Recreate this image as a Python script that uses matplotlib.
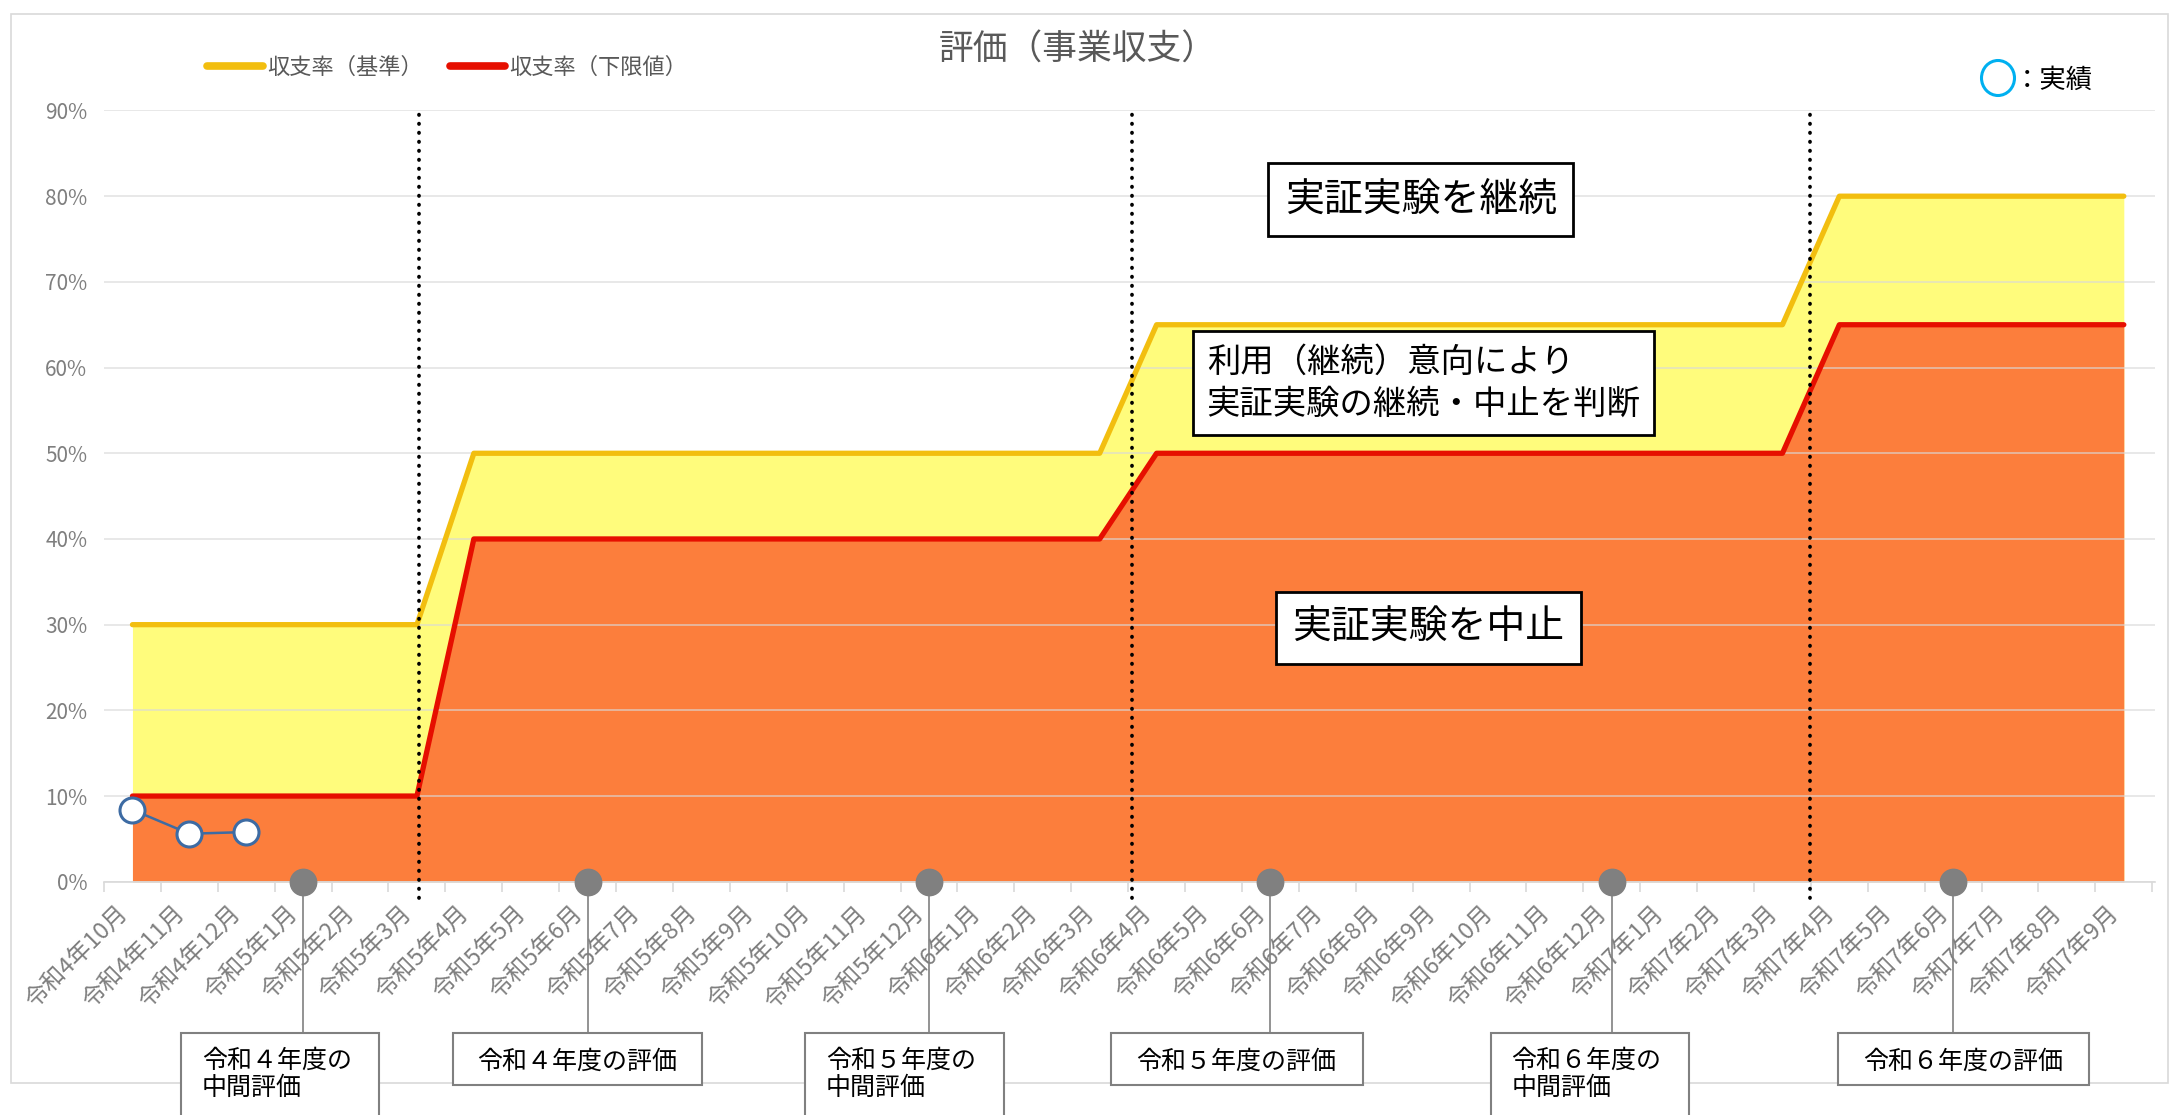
import matplotlib.pyplot as plt
import matplotlib.transforms as mtransforms
from matplotlib.patches import Rectangle, Ellipse
from matplotlib.lines import Line2D
from matplotlib.ticker import FuncFormatter

plt.rcParams['font.family'] = ['Noto Sans CJK JP', 'DejaVu Sans']

months = ['令和4年10月', '令和4年11月', '令和4年12月', '令和5年1月', '令和5年2月', '令和5年3月',
          '令和5年4月', '令和5年5月', '令和5年6月', '令和5年7月', '令和5年8月', '令和5年9月',
          '令和5年10月', '令和5年11月', '令和5年12月', '令和6年1月', '令和6年2月', '令和6年3月',
          '令和6年4月', '令和6年5月', '令和6年6月', '令和6年7月', '令和6年8月', '令和6年9月',
          '令和6年10月', '令和6年11月', '令和6年12月', '令和7年1月', '令和7年2月', '令和7年3月',
          '令和7年4月', '令和7年5月', '令和7年6月', '令和7年7月', '令和7年8月', '令和7年9月']

# 収支率（基準）
kijun = [30, 30, 30, 30, 30, 30,
         50, 50, 50, 50, 50, 50, 50, 50, 50, 50, 50, 50,
         65, 65, 65, 65, 65, 65, 65, 65, 65, 65, 65, 65,
         80, 80, 80, 80, 80, 80]
# 収支率（下限値）
kagen = [10, 10, 10, 10, 10, 10,
         40, 40, 40, 40, 40, 40, 40, 40, 40, 40, 40, 40,
         50, 50, 50, 50, 50, 50, 50, 50, 50, 50, 50, 50,
         65, 65, 65, 65, 65, 65]
# 実績
jisseki = [8.4, 5.6, 5.8]

eval_months = ['令和5年1月', '令和5年6月', '令和5年12月', '令和6年6月', '令和6年12月', '令和7年6月']
eval_labels = ['令和４年度の\n中間評価', '令和４年度の評価', '令和５年度の\n中間評価',
               '令和５年度の評価', '令和６年度の\n中間評価', '令和６年度の評価']

# layout of the annotation boxes under the axis (category units)
box_x = [(0.85, 4.33), (5.63, 10.01), (11.82, 15.31), (17.19, 21.62), (23.87, 27.35), (29.97, 34.39)]
divider_x = [5.03, 17.56, 29.48]

x = list(range(len(months)))

fig = plt.figure(figsize=(21.76, 11.15), dpi=100)
ax = fig.add_axes([0.0478, 0.2092, 0.9426, 0.6917])

ax.fill_between(x, 0, kijun, color='#FFFC7C', lw=0, zorder=1)
ax.fill_between(x, 0, kagen, color='#FC7E3C', lw=0, zorder=1.1)
l1, = ax.plot(x, kijun, color='#F2BE0F', lw=3.8, zorder=3, solid_capstyle='round', label='収支率（基準）')
l2, = ax.plot(x, kagen, color='#E60F00', lw=3.8, zorder=3, solid_capstyle='round', label='収支率（下限値）')
ax.plot(x[:len(jisseki)], jisseki, color='#3D6BA3', lw=1.8, marker='o', ms=18,
        mfc='white', mec='#3D6BA3', mew=2.2, zorder=4, clip_on=False)

ax.set_xlim(-0.5, 35.55)
ax.set_ylim(0, 90)
ax.set_yticks(range(0, 91, 10))
ax.yaxis.set_major_formatter(FuncFormatter(lambda v, p: f'{v:.0f}%'))
ax.grid(axis='y', color='#D9D9D9', lw=1.2, alpha=0.7)
ax.set_axisbelow(False)
for s in ['top', 'right', 'left']:
    ax.spines[s].set_visible(False)
ax.spines['bottom'].set_color('#D9D9D9')
ax.spines['bottom'].set_linewidth(1.2)
ax.spines['bottom'].set_zorder(2)
ax.tick_params(axis='y', length=0, pad=12, labelsize=15, labelcolor='#7F7F7F')

ax.set_xticks(x)
ax.set_xticklabels(months, rotation=45, ha='right', va='top')
ax.tick_params(axis='x', which='major', length=0, pad=15, labelsize=17, labelcolor='#7F7F7F')
ax.set_xticks([i - 0.5 for i in range(len(months) + 1)], minor=True)
ax.tick_params(axis='x', which='minor', length=7, color='#D9D9D9', width=1.2)

# dotted dividers between fiscal years
for dx in divider_x:
    ax.plot([dx, dx], [-1.9, 90], color='black', lw=2.7, ls=(0, (0.1, 2.3)),
            dash_capstyle='round', zorder=5, clip_on=False)

# text boxes in the plot area
ax.text(22.64, 79.6, '実証実験を継続', fontsize=28, ha='center', va='center', zorder=6,
        bbox=dict(boxstyle='square,pad=0.42', fc='white', ec='black', lw=2))
ax.text(18.88, 58.2, '利用（継続）意向により\n実証実験の継続・中止を判断', fontsize=24,
        ha='left', va='center', linespacing=1.25, zorder=6,
        bbox=dict(boxstyle='square,pad=0.4', fc='white', ec='black', lw=2))
ax.text(22.78, 29.6, '実証実験を中止', fontsize=28, ha='center', va='center', zorder=6,
        bbox=dict(boxstyle='square,pad=0.42', fc='white', ec='black', lw=2))

# evaluation markers with leader lines and labels
trans = mtransforms.blended_transform_factory(ax.transData, fig.transFigure)
box_top = 0.0735
for m, lab, (x0, x1) in zip(eval_months, eval_labels, box_x):
    i = months.index(m)
    ax.plot(i, 0, 'o', ms=19, color='#808080', zorder=7, clip_on=False)
    fig.add_artist(Line2D([i, i], [0.2092, box_top], transform=trans, color='#808080', lw=1.2, zorder=3))
    two_lines = '\n' in lab
    y0 = -0.05 if two_lines else 0.0269
    fig.add_artist(Rectangle((x0, y0), x1 - x0, box_top - y0, transform=trans, fc='white',
                             ec='#808080', lw=1.5, zorder=4, clip_on=False))
    if two_lines:
        fig.text(x0 + 0.37, 0.0363, lab, transform=trans, fontsize=18, ha='left', va='center',
                 linespacing=1.05, zorder=5)
    else:
        fig.text((x0 + x1) / 2, 0.0475, lab, transform=trans, fontsize=18, ha='center',
                 va='center', zorder=5)

# outer chart frame
fig.add_artist(Rectangle((11 / 2176, 1 - 1083 / 1115), 2157 / 2176, 1069 / 1115,
                         transform=fig.transFigure, fill=False, ec='#D9D9D9', lw=1.2, zorder=-1))

fig.text(0.4955, 0.955, '評価（事業収支）', fontsize=25, color='#595959', ha='center', va='center')
leg = fig.legend(handles=[l1, l2], loc='center left', bbox_to_anchor=(0.086, 0.94), ncol=2,
                 frameon=False, fontsize=16, handlelength=2.5, handletextpad=0.2, columnspacing=1.2,
                 labelcolor='#595959')
for h in leg.legend_handles:
    h.set_linewidth(5.5)

fig.add_artist(Ellipse((1998 / 2176, 1 - 78 / 1115), 33 / 2176, 35 / 1115, transform=fig.transFigure,
                       fill=False, ec='#00B0F0', lw=2.2))
fig.text(2014 / 2176, 0.928, '：実績', fontsize=19, ha='left', va='center')

fig.savefig('out.png', dpi=100)
